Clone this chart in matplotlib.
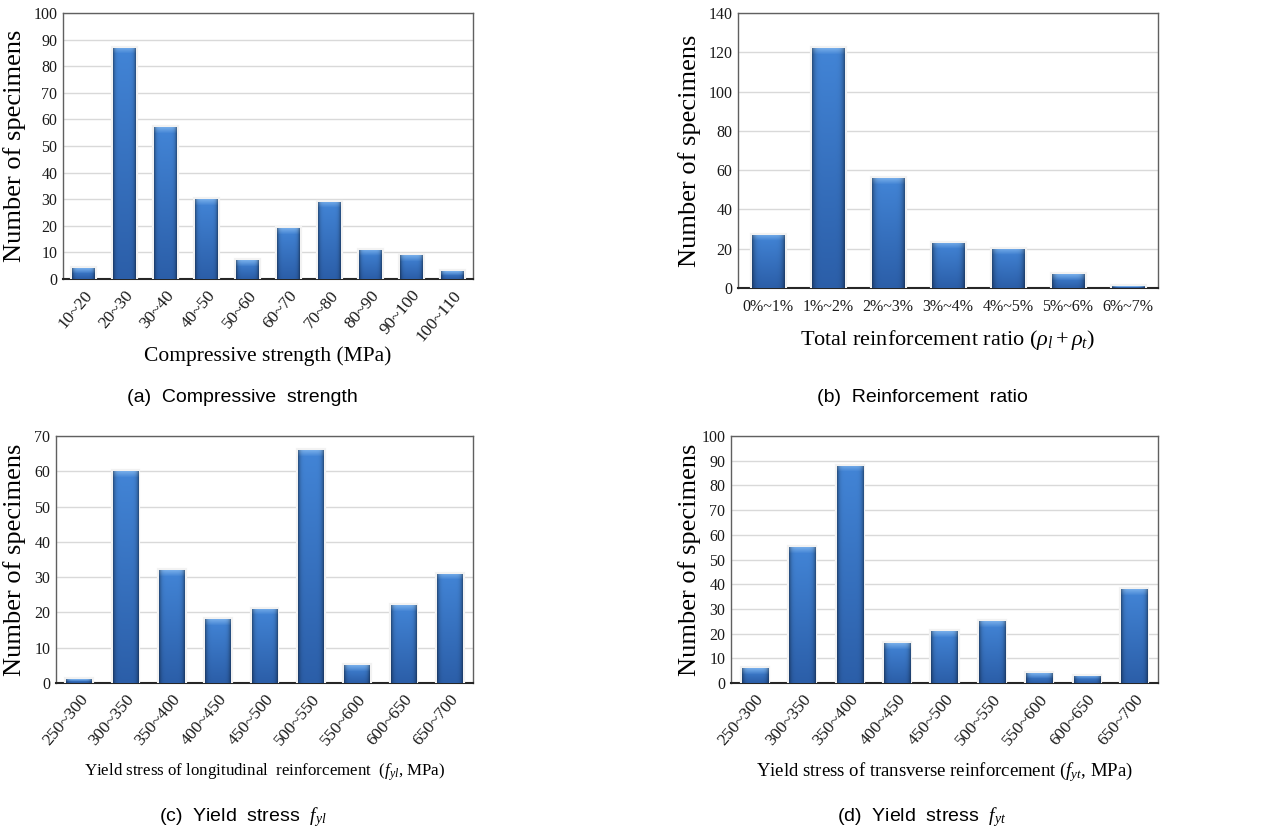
import numpy as np
import matplotlib
matplotlib.use("Agg")
import matplotlib.pyplot as plt

plt.rcParams["font.family"] = ["Liberation Serif", "DejaVu Serif"]
plt.rcParams["mathtext.fontset"] = "custom"
plt.rcParams["mathtext.rm"] = "Liberation Serif"
plt.rcParams["mathtext.it"] = "Liberation Serif:italic"

# data
fc_labels = ["10~20", "20~30", "30~40", "40~50", "50~60", "60~70", "70~80", "80~90", "90~100", "100~110"]
fc_counts = [4, 87, 57, 30, 7, 19, 29, 11, 9, 3]

rho_labels = ["0%~1%", "1%~2%", "2%~3%", "3%~4%", "4%~5%", "5%~6%", "6%~7%"]
rho_counts = [27, 122, 56, 23, 20, 7, 1]

fy_labels = ["250~300", "300~350", "350~400", "400~450", "450~500", "500~550", "550~600", "600~650", "650~700"]
fyl_counts = [1, 60, 32, 18, 21, 66, 5, 22, 31]
fyt_counts = [6, 55, 88, 16, 21, 25, 4, 3, 38]

W, H = 1264, 838
fig = plt.figure(figsize=(W / 100, H / 100), dpi=100)


def bar_image(h_px, bevel=6):
    rows = max(int(round(h_px)), 2)
    cols = 40
    r = np.arange(rows)[:, None] / max(rows - 1, 1)
    top = np.array([0.26, 0.52, 0.84])
    bot = np.array([0.17, 0.37, 0.66])
    img = top * (1 - r[..., None]) + bot * r[..., None]
    img = np.broadcast_to(img, (rows, cols, 3)).copy()
    # light bevel at the top of the bar
    nb = min(bevel, rows // 2)
    for i in range(nb):
        k = 1 - i / max(nb, 1)
        img[i] = img[i] * (1 - 0.55 * k) + np.array([0.62, 0.80, 0.97]) * 0.55 * k
    u = np.linspace(-1, 1, cols)
    shade = 1 - 0.4 * np.abs(u) ** 6
    img = img * shade[None, :, None]
    return np.clip(img, 0, 1)


def panel(rect, labels, counts, ymax, ystep, rotate, xlabel, xlabel_y, ylabel_x, xlabel_size):
    ax = fig.add_axes(rect)
    x = np.arange(len(counts))
    ax.bar(x, counts, width=0.55, color="#f2f2f2", edgecolor="#f2f2f2", linewidth=3, zorder=2.6)
    bars = ax.bar(x, counts, width=0.55, color="#2f6cb8", edgecolor="none", zorder=3)
    px_per_unit = rect[3] * H / ymax
    for b in bars:
        h = b.get_height()
        img = bar_image(h * px_per_unit)
        im = ax.imshow(img, extent=[b.get_x(), b.get_x() + b.get_width(), 0, h],
                       aspect="auto", zorder=4, interpolation="bilinear")
        im.set_clip_path(b)
    ax.set_xlim(-0.5, len(counts) - 0.5)
    ax.set_ylim(0, ymax)
    ax.set_yticks(np.arange(0, ymax + 1, ystep))
    ax.set_xticks(x)
    if rotate:
        ax.set_xticklabels(labels, rotation=50, ha="right", rotation_mode="anchor", fontsize=12.5)
    else:
        ax.set_xticklabels(labels, fontsize=11.5)
    ax.tick_params(axis="y", labelsize=11.5)
    ax.tick_params(axis="both", length=0, colors="#1a1a1a")
    ax.tick_params(axis="x", pad=8 if not rotate else 6)
    ax.tick_params(axis="y", pad=4)
    ax.yaxis.grid(True, color="#d9d9d9", linewidth=1)
    ax.set_axisbelow(True)
    for s in ["top", "left", "right"]:
        ax.spines[s].set_color("#606060")
        ax.spines[s].set_linewidth(1)
    ax.spines["bottom"].set_color("#262626")
    ax.spines["bottom"].set_linewidth(1.5)
    ax.text(0.5, xlabel_y, xlabel, transform=ax.transAxes, ha="center", va="center",
            fontsize=xlabel_size)
    ax.text(ylabel_x, 0.5, "Number of specimens", transform=ax.transAxes, rotation=90,
            ha="center", va="center", fontsize=19)
    return ax


panel([63 / W, 1 - 279 / H, 410 / W, 266 / H], fc_labels, fc_counts, 100, 10, True,
      "Compressive strength (MPa)", -0.29, -48 / 410, 15.5)
panel([738 / W, 1 - 288 / H, 420 / W, 275 / H], rho_labels, rho_counts, 140, 20, False,
      r"Total reinforcement ratio ($\rho_l + \rho_t$)", -0.19, -48 / 420, 16)
panel([56 / W, 1 - 683 / H, 417 / W, 247 / H], fy_labels, fyl_counts, 70, 10, True,
      r"Yield stress of longitudinal  reinforcement  ($f_{yl}$, MPa)", -0.36, -41 / 417, 12.2)
panel([731 / W, 1 - 683 / H, 427 / W, 247 / H], fy_labels, fyt_counts, 100, 10, True,
      r"Yield stress of transverse reinforcement ($f_{yt}$, MPa)", -0.36, -41 / 427, 13.5)

cap = dict(ha="center", va="center", fontsize=14, family="Liberation Sans")
fig.text(242 / W, 1 - 397 / H, "(a)  Compressive  strength", **cap)
fig.text(922 / W, 1 - 397 / H, "(b)  Reinforcement  ratio", **cap)
fig.text(243 / W, 1 - 817 / H, r"(c)  Yield  stress  $f_{yl}$", **cap)
fig.text(922 / W, 1 - 817 / H, r"(d)  Yield  stress  $f_{yt}$", **cap)

fig.savefig("out.png", dpi=100, facecolor="white")
